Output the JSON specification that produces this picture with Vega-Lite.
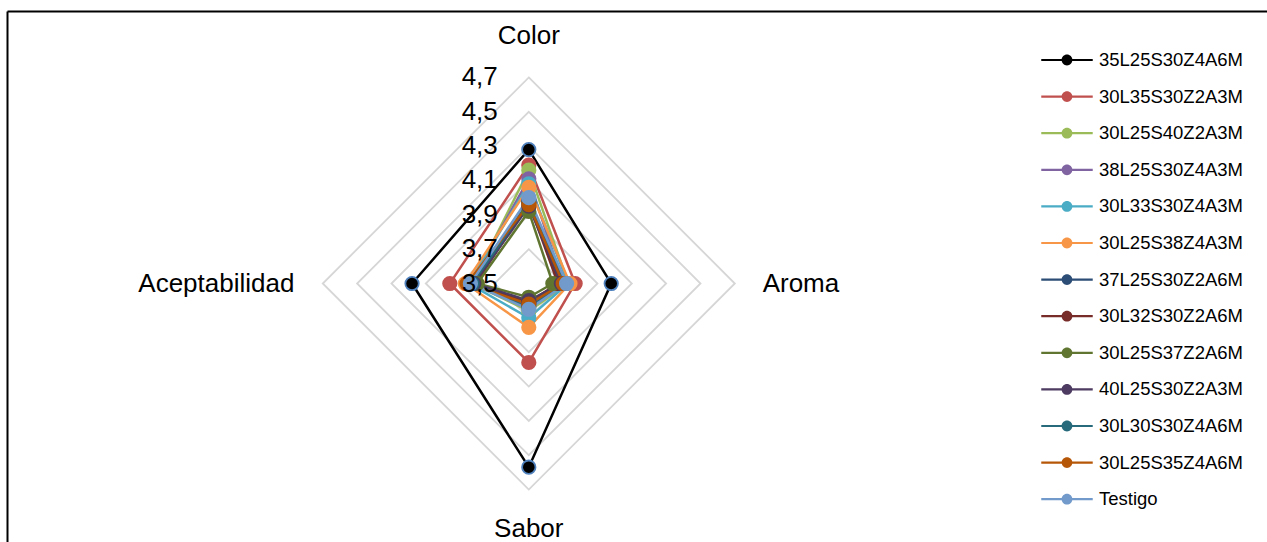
{
  "$schema": "https://vega.github.io/schema/vega-lite/v6.json",
  "width": 1260,
  "height": 531,
  "padding": {"left": 7, "top": 11, "right": 0, "bottom": 0},
  "autosize": {"type": "none"},
  "background": "white",
  "config": {
    "font": "Liberation Sans",
    "view": {"stroke": null},
    "axis": {"domain": true, "domainColor": "#000000", "domainWidth": 2, "ticks": false, "labels": false, "grid": false, "title": null}
  },
  "datasets": {
    "series": [
      {"serie": "35L25S30Z4A6M", "atributo": "Color", "valor": 4.28},
      {"serie": "35L25S30Z4A6M", "atributo": "Aroma", "valor": 3.98},
      {"serie": "35L25S30Z4A6M", "atributo": "Sabor", "valor": 4.57},
      {"serie": "35L25S30Z4A6M", "atributo": "Aceptabilidad", "valor": 4.18},
      {"serie": "30L35S30Z2A3M", "atributo": "Color", "valor": 4.19},
      {"serie": "30L35S30Z2A3M", "atributo": "Aroma", "valor": 3.77},
      {"serie": "30L35S30Z2A3M", "atributo": "Sabor", "valor": 3.96},
      {"serie": "30L35S30Z2A3M", "atributo": "Aceptabilidad", "valor": 3.96},
      {"serie": "30L25S40Z2A3M", "atributo": "Color", "valor": 4.16},
      {"serie": "30L25S40Z2A3M", "atributo": "Aroma", "valor": 3.73},
      {"serie": "30L25S40Z2A3M", "atributo": "Sabor", "valor": 3.66},
      {"serie": "30L25S40Z2A3M", "atributo": "Aceptabilidad", "valor": 3.83},
      {"serie": "38L25S30Z4A3M", "atributo": "Color", "valor": 4.11},
      {"serie": "38L25S30Z4A3M", "atributo": "Aroma", "valor": 3.7},
      {"serie": "38L25S30Z4A3M", "atributo": "Sabor", "valor": 3.63},
      {"serie": "38L25S30Z4A3M", "atributo": "Aceptabilidad", "valor": 3.84},
      {"serie": "30L33S30Z4A3M", "atributo": "Color", "valor": 4.08},
      {"serie": "30L33S30Z4A3M", "atributo": "Aroma", "valor": 3.73},
      {"serie": "30L33S30Z4A3M", "atributo": "Sabor", "valor": 3.7},
      {"serie": "30L33S30Z4A3M", "atributo": "Aceptabilidad", "valor": 3.85},
      {"serie": "30L25S38Z4A3M", "atributo": "Color", "valor": 4.06},
      {"serie": "30L25S38Z4A3M", "atributo": "Aroma", "valor": 3.74},
      {"serie": "30L25S38Z4A3M", "atributo": "Sabor", "valor": 3.755},
      {"serie": "30L25S38Z4A3M", "atributo": "Aceptabilidad", "valor": 3.87},
      {"serie": "37L25S30Z2A6M", "atributo": "Color", "valor": 3.98},
      {"serie": "37L25S30Z2A6M", "atributo": "Aroma", "valor": 3.68},
      {"serie": "37L25S30Z2A6M", "atributo": "Sabor", "valor": 3.62},
      {"serie": "37L25S30Z2A6M", "atributo": "Aceptabilidad", "valor": 3.82},
      {"serie": "30L32S30Z2A6M", "atributo": "Color", "valor": 3.97},
      {"serie": "30L32S30Z2A6M", "atributo": "Aroma", "valor": 3.67},
      {"serie": "30L32S30Z2A6M", "atributo": "Sabor", "valor": 3.61},
      {"serie": "30L32S30Z2A6M", "atributo": "Aceptabilidad", "valor": 3.81},
      {"serie": "30L25S37Z2A6M", "atributo": "Color", "valor": 3.92},
      {"serie": "30L25S37Z2A6M", "atributo": "Aroma", "valor": 3.64},
      {"serie": "30L25S37Z2A6M", "atributo": "Sabor", "valor": 3.58},
      {"serie": "30L25S37Z2A6M", "atributo": "Aceptabilidad", "valor": 3.8},
      {"serie": "40L25S30Z2A3M", "atributo": "Color", "valor": 3.95},
      {"serie": "40L25S30Z2A3M", "atributo": "Aroma", "valor": 3.69},
      {"serie": "40L25S30Z2A3M", "atributo": "Sabor", "valor": 3.6},
      {"serie": "40L25S30Z2A3M", "atributo": "Aceptabilidad", "valor": 3.82},
      {"serie": "30L30S30Z4A6M", "atributo": "Color", "valor": 3.97},
      {"serie": "30L30S30Z4A6M", "atributo": "Aroma", "valor": 3.71},
      {"serie": "30L30S30Z4A6M", "atributo": "Sabor", "valor": 3.64},
      {"serie": "30L30S30Z4A6M", "atributo": "Aceptabilidad", "valor": 3.83},
      {"serie": "30L25S35Z4A6M", "atributo": "Color", "valor": 3.96},
      {"serie": "30L25S35Z4A6M", "atributo": "Aroma", "valor": 3.7},
      {"serie": "30L25S35Z4A6M", "atributo": "Sabor", "valor": 3.62},
      {"serie": "30L25S35Z4A6M", "atributo": "Aceptabilidad", "valor": 3.86},
      {"serie": "Testigo", "atributo": "Color", "valor": 4.0},
      {"serie": "Testigo", "atributo": "Aroma", "valor": 3.72},
      {"serie": "Testigo", "atributo": "Sabor", "valor": 3.65},
      {"serie": "Testigo", "atributo": "Aceptabilidad", "valor": 3.84}
    ],
    "niveles": [{"nivel": 3.7}, {"nivel": 3.9}, {"nivel": 4.1}, {"nivel": 4.3}, {"nivel": 4.5}, {"nivel": 4.7}],
    "marcas": [{"nivel": 3.5}, {"nivel": 3.7}, {"nivel": 3.9}, {"nivel": 4.1}, {"nivel": 4.3}, {"nivel": 4.5}, {"nivel": 4.7}],
    "ejes": [{"atributo": "Color"}, {"atributo": "Aroma"}, {"atributo": "Sabor"}, {"atributo": "Aceptabilidad"}]
  },
  "encoding": {
    "x": {"field": "px", "type": "quantitative", "scale": {"domain": [-3.039, 4.2994], "nice": false, "zero": false}, "axis": {"orient": "top"}},
    "y": {"field": "py", "type": "quantitative", "scale": {"domain": [-1.5055, 1.5871], "nice": false, "zero": false}, "axis": {"orient": "left"}}
  },
  "layer": [
    {
      "data": {"name": "niveles"},
      "transform": [
        {"calculate": "['Color','Aroma','Sabor','Aceptabilidad']", "as": "atributo"},
        {"flatten": ["atributo"]},
        {"calculate": "indexof(['Color','Aroma','Sabor','Aceptabilidad'], datum.atributo)", "as": "k"},
        {"calculate": "datum.nivel - 3.5", "as": "r"},
        {"calculate": "(datum.k == 1 ? 1 : datum.k == 3 ? -1 : 0) * datum.r", "as": "px"},
        {"calculate": "(datum.k == 0 ? 1 : datum.k == 2 ? -1 : 0) * datum.r", "as": "py"}
      ],
      "mark": {"type": "line", "interpolate": "linear-closed", "stroke": "#d6d6d6", "strokeWidth": 1.8},
      "encoding": {
        "detail": {"field": "nivel", "type": "nominal"},
        "order": {"field": "k", "type": "quantitative"}
      }
    },
    {
      "data": {"name": "series"},
      "transform": [
        {"calculate": "datum.serie", "as": "linea"},
        {"calculate": "indexof(['Color','Aroma','Sabor','Aceptabilidad'], datum.atributo)", "as": "k"},
        {"calculate": "datum.valor - 3.5", "as": "r"},
        {"calculate": "(datum.k == 1 ? 1 : datum.k == 3 ? -1 : 0) * datum.r", "as": "px"},
        {"calculate": "(datum.k == 0 ? 1 : datum.k == 2 ? -1 : 0) * datum.r", "as": "py"}
      ],
      "mark": {"type": "line", "interpolate": "linear-closed", "strokeWidth": 2.5},
      "encoding": {
        "stroke": {
          "field": "linea", "type": "nominal", "legend": null,
          "scale": {
            "domain": ["Testigo", "30L25S35Z4A6M", "30L30S30Z4A6M", "40L25S30Z2A3M", "30L25S37Z2A6M", "30L32S30Z2A6M", "37L25S30Z2A6M", "30L25S38Z4A3M", "30L33S30Z4A3M", "38L25S30Z4A3M", "30L25S40Z2A3M", "30L35S30Z2A3M", "35L25S30Z4A6M"],
            "range": ["#729ACA", "#B65708", "#276A7C", "#4D3B62", "#5F7530", "#772C2A", "#2C4D75", "#F79646", "#4BACC6", "#8064A2", "#9BBB59", "#C0504D", "#000000"]
          }
        },
        "order": {"field": "k", "type": "quantitative"}
      }
    },
    {
      "data": {"name": "series"},
      "transform": [
        {"calculate": "datum.serie", "as": "linea"},
        {"calculate": "indexof(['Color','Aroma','Sabor','Aceptabilidad'], datum.atributo)", "as": "k"},
        {"calculate": "datum.valor - 3.5", "as": "r"},
        {"calculate": "(datum.k == 1 ? 1 : datum.k == 3 ? -1 : 0) * datum.r", "as": "px"},
        {"calculate": "(datum.k == 0 ? 1 : datum.k == 2 ? -1 : 0) * datum.r", "as": "py"}
      ],
      "mark": {"type": "point", "filled": true, "size": 180, "opacity": 1, "strokeWidth": 1.8, "strokeOpacity": 1},
      "encoding": {
        "fill": {
          "field": "serie", "type": "nominal",
          "scale": {
            "domain": ["35L25S30Z4A6M", "30L35S30Z2A3M", "30L25S40Z2A3M", "38L25S30Z4A3M", "30L33S30Z4A3M", "30L25S38Z4A3M", "37L25S30Z2A6M", "30L32S30Z2A6M", "30L25S37Z2A6M", "40L25S30Z2A3M", "30L30S30Z4A6M", "30L25S35Z4A6M", "Testigo"],
            "range": ["#000000", "#C0504D", "#9BBB59", "#8064A2", "#4BACC6", "#F79646", "#2C4D75", "#772C2A", "#5F7530", "#4D3B62", "#276A7C", "#B65708", "#729ACA"]
          },
          "legend": {
            "title": null,
            "orient": "none",
            "legendX": 1042,
            "legendY": 31,
            "direction": "vertical",
            "padding": 0,
            "symbolType": "M-1.43,-0.06H1.43V0.06H-1.43ZM0.3,0A0.3,0.3,0,1,1,-0.3,0A0.3,0.3,0,1,1,0.3,0Z",
            "symbolSize": 1296,
            "symbolStrokeWidth": 0,
            "symbolOpacity": 1,
            "labelFont": "Liberation Sans",
            "labelFontSize": 18.5,
            "labelColor": "#000000",
            "labelOffset": 14,
            "rowPadding": 8.6,
            "labelLimit": 300
          }
        },
        "stroke": {
          "condition": {"test": "datum.serie === '35L25S30Z4A6M'", "value": "#4F81BD"},
          "field": "linea", "type": "nominal", "legend": null
        }
      }
    },
    {
      "data": {"name": "ejes"},
      "transform": [
        {"filter": "datum.atributo == 'Color' || datum.atributo == 'Sabor'"},
        {"calculate": "0", "as": "px"},
        {"calculate": "datum.atributo == 'Color' ? 1.44 : -1.43", "as": "py"}
      ],
      "mark": {"type": "text", "align": "center", "baseline": "middle", "fontSize": 26, "font": "Liberation Sans", "color": "#000000"},
      "encoding": {"text": {"field": "atributo", "type": "nominal"}}
    },
    {
      "data": {"name": "ejes"},
      "transform": [
        {"filter": "datum.atributo == 'Aroma'"},
        {"calculate": "1.362", "as": "px"},
        {"calculate": "0", "as": "py"}
      ],
      "mark": {"type": "text", "align": "left", "baseline": "middle", "fontSize": 26, "font": "Liberation Sans", "color": "#000000"},
      "encoding": {"text": {"field": "atributo", "type": "nominal"}}
    },
    {
      "data": {"name": "ejes"},
      "transform": [
        {"filter": "datum.atributo == 'Aceptabilidad'"},
        {"calculate": "-1.365", "as": "px"},
        {"calculate": "0", "as": "py"}
      ],
      "mark": {"type": "text", "align": "right", "baseline": "middle", "fontSize": 26, "font": "Liberation Sans", "color": "#000000"},
      "encoding": {"text": {"field": "atributo", "type": "nominal"}}
    },
    {
      "data": {"name": "marcas"},
      "transform": [
        {"calculate": "0", "as": "px"},
        {"calculate": "datum.nivel - 3.5", "as": "py"},
        {"calculate": "replace(format(datum.nivel, '.1f'), '.', ',')", "as": "etiqueta"}
      ],
      "mark": {"type": "text", "align": "right", "baseline": "middle", "dx": -31, "fontSize": 26, "font": "Liberation Sans", "color": "#000000"},
      "encoding": {"text": {"field": "etiqueta", "type": "nominal"}}
    }
  ]
}
